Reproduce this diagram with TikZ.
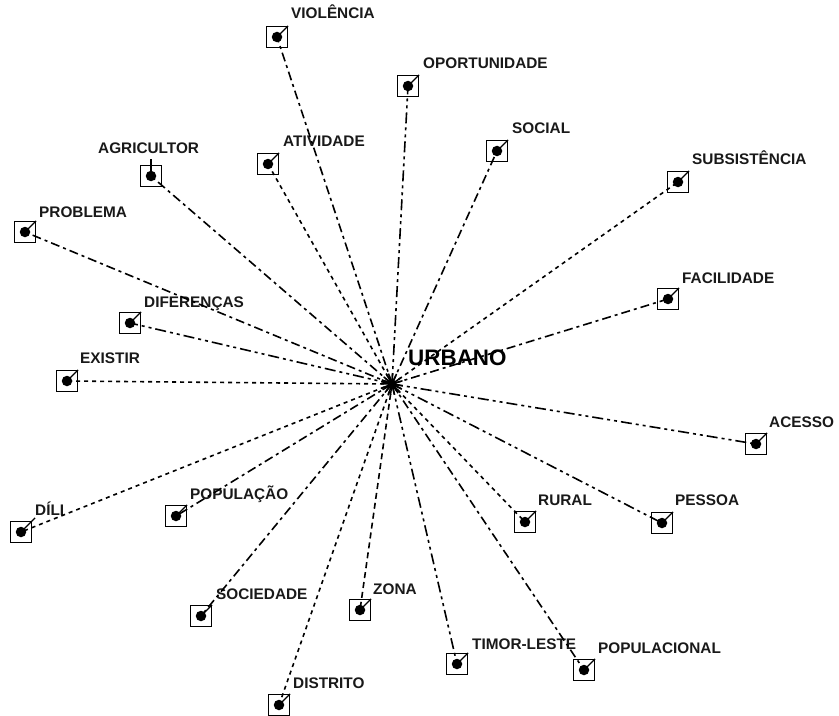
\documentclass[tikz,border=0pt]{standalone}
\usepackage{fontspec}
\setmainfont{Liberation Sans}
\usetikzlibrary{calc}
\begin{document}
\begin{tikzpicture}[x=1bp,y=-1bp,
  wordbox/.style={draw=black,line width=1.2bp,minimum size=21bp,inner sep=0pt,fill=white},
  worddot/.style={circle,fill=black,minimum size=10.5bp,inner sep=0pt},
  wordlbl/.style={anchor=base west,inner sep=0pt,font=\bfseries\fontsize{15.4}{17}\selectfont,text=black!90},
  hublbl/.style={anchor=base west,inner sep=0pt,font=\bfseries\fontsize{22.5}{24}\selectfont},
  tick/.style={line width=1.2bp},
  linkA/.style={line width=1.6bp,dash pattern=on 9bp off 4bp on 3bp off 4bp},
  linkB/.style={line width=1.6bp,dash pattern=on 4bp off 4bp},
  linkC/.style={line width=1.6bp,dash pattern=on 11bp off 4bp on 3bp off 4bp on 3bp off 4bp},
  linkD/.style={line width=1.6bp,dash pattern=on 6bp off 4bp},
]
\useasboundingbox (0,0) rectangle (839,716);

% central word
\coordinate (hub) at (392,384);
\node[hublbl] (urbano) at (408,365) {URBANO};

% surrounding words: box, then label
\node[wordbox] (violencia)    at (277,37)  {}; \node[wordlbl] (l-violencia)    at (291,19)  {VIOLÊNCIA};
\node[wordbox] (oportunidade) at (408,86)  {}; \node[wordlbl] (l-oportunidade) at (423,69)  {OPORTUNIDADE};
\node[wordbox] (social)       at (497,151) {}; \node[wordlbl] (l-social)       at (512,134) {SOCIAL};
\node[wordbox] (subsistencia) at (678,182) {}; \node[wordlbl] (l-subsistencia) at (692,165) {SUBSISTÊNCIA};
\node[wordbox] (agricultor)   at (151,176) {}; \node[wordlbl] (l-agricultor)   at (98,154)  {AGRICULTOR};
\node[wordbox] (atividade)    at (268,164) {}; \node[wordlbl] (l-atividade)    at (283,147) {ATIVIDADE};
\node[wordbox] (problema)     at (25,232)  {}; \node[wordlbl] (l-problema)     at (39,217)  {PROBLEMA};
\node[wordbox] (diferencas)   at (130,323) {}; \node[wordlbl] (l-diferencas)   at (144,307) {DIFERENÇAS};
\node[wordbox] (facilidade)   at (668,299) {}; \node[wordlbl] (l-facilidade)   at (682,283) {FACILIDADE};
\node[wordbox] (existir)      at (67,381)  {}; \node[wordlbl] (l-existir)      at (80,363)  {EXISTIR};
\node[wordbox] (acesso)       at (756,444) {}; \node[wordlbl] (l-acesso)       at (769,427) {ACESSO};
\node[wordbox] (dili)         at (21,532)  {}; \node[wordlbl] (l-dili)         at (35,515)  {DÍLI};
\node[wordbox] (populacao)    at (176,516) {}; \node[wordlbl] (l-populacao)    at (190,499) {POPULAÇÃO};
\node[wordbox] (rural)        at (525,522) {}; \node[wordlbl] (l-rural)        at (538,505) {RURAL};
\node[wordbox] (pessoa)       at (662,523) {}; \node[wordlbl] (l-pessoa)       at (675,505) {PESSOA};
\node[wordbox] (sociedade)    at (201,616) {}; \node[wordlbl] (l-sociedade)    at (216,599) {SOCIEDADE};
\node[wordbox] (zona)         at (360,610) {}; \node[wordlbl] (l-zona)         at (373,594) {ZONA};
\node[wordbox] (timorleste)   at (457,664) {}; \node[wordlbl] (l-timorleste)   at (472,649) {TIMOR-LESTE};
\node[wordbox] (populacional) at (584,670) {}; \node[wordlbl] (l-populacional) at (598,653) {POPULACIONAL};
\node[wordbox] (distrito)     at (279,705) {}; \node[wordlbl] (l-distrito)     at (293,688) {DISTRITO};

% links from the central word
\draw[linkA] (hub) -- (violencia.center);
\draw[linkC] (hub) -- (oportunidade.center);
\draw[linkA] (hub) -- (social.center);
\draw[linkB] (hub) -- (subsistencia.center);
\draw[linkA] (hub) -- (agricultor.center);
\draw[linkB] (hub) -- (atividade.center);
\draw[linkA] (hub) -- (problema.center);
\draw[linkC] (hub) -- (diferencas.center);
\draw[linkA] (hub) -- (facilidade.center);
\draw[linkB] (hub) -- (existir.center);
\draw[linkC] (hub) -- (acesso.center);
\draw[linkB] (hub) -- (dili.center);
\draw[linkA] (hub) -- (populacao.center);
\draw[linkB] (hub) -- (rural.center);
\draw[linkC] (hub) -- (pessoa.center);
\draw[linkA] (hub) -- (sociedade.center);
\draw[linkD] (hub) -- (zona.center);
\draw[linkC] (hub) -- (timorleste.center);
\draw[linkA] (hub) -- (populacional.center);
\draw[linkB] (hub) -- (distrito.center);

% the links pile up into a dark star at the centre
\foreach \w in {violencia,oportunidade,social,subsistencia,agricultor,atividade,
  problema,diferencas,facilidade,existir,acesso,dili,populacao,rural,pessoa,
  sociedade,zona,timorleste,populacional,distrito}{
  \draw[line width=1.5bp] (hub) -- ($(hub)!11bp!(\w.center)$);
}
\fill (hub) circle (4.5bp);

% dots and label ticks
\foreach \w in {violencia,oportunidade,social,subsistencia,atividade,problema,
  diferencas,facilidade,existir,acesso,populacao,rural,pessoa,sociedade,zona,
  timorleste,populacional,distrito}{
  \node[worddot] at (\w.center) {};
  \draw[tick] (\w.center) -- (\w.north east);
}
\node[worddot] at (agricultor.center) {};
\draw[tick] (agricultor.center) -- ([yshift=6bp]agricultor.north);
\node[worddot] at (dili.center) {};
\draw[tick] (dili.center) -- ([shift={(3bp,3bp)}]dili.north east);
\end{tikzpicture}
\end{document}
